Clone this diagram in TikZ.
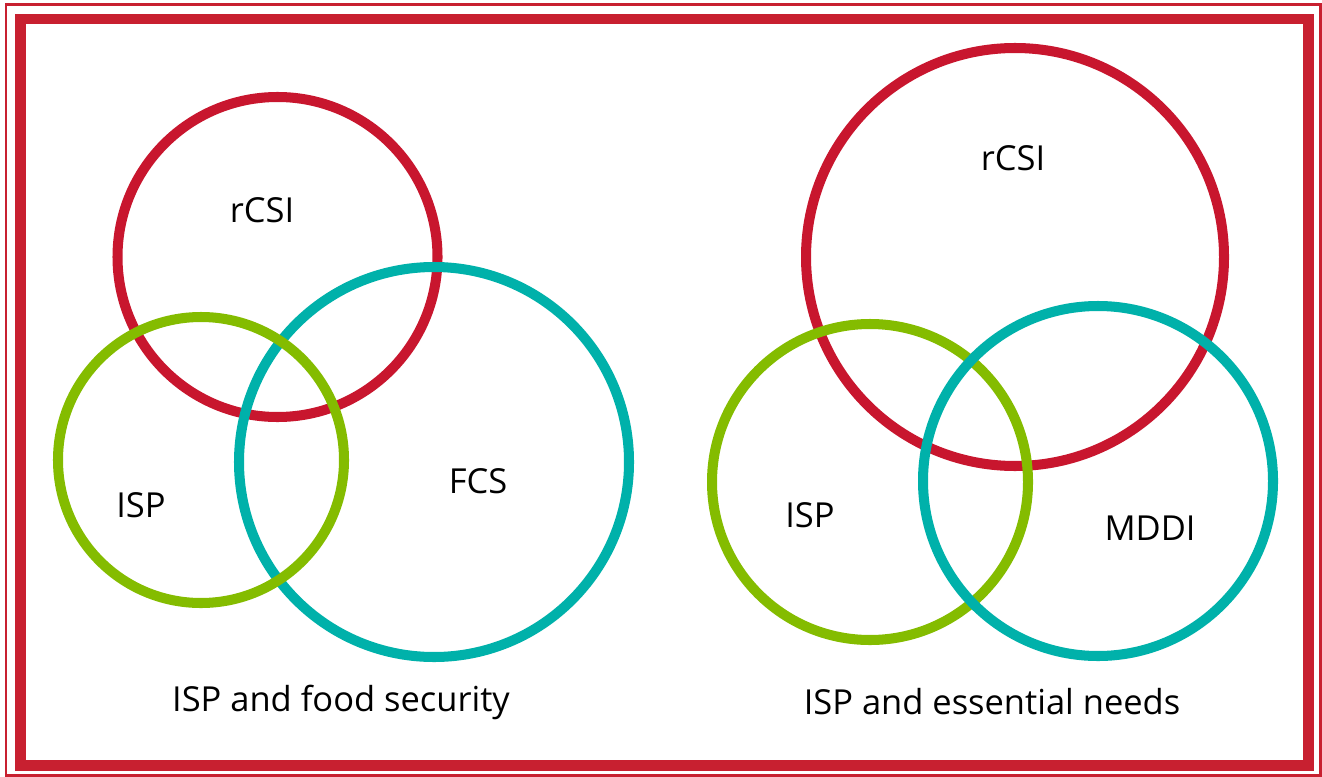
\documentclass[tikz,border=0pt]{standalone}
\usepackage{fontspec}
\setmainfont{Open Sans}
\definecolor{wfpred}{RGB}{200,22,46}
\definecolor{framered}{RGB}{200,32,48}
\definecolor{ispgreen}{RGB}{132,188,0}
\definecolor{tealc}{RGB}{0,177,170}
\tikzset{ring/.style={line width=2.85pt},lbl/.style={font=\fontsize{9.8}{12}\selectfont}}
\begin{document}
\begin{tikzpicture}[x=0.01cm,y=-0.01cm,line join=round]
			\useasboundingbox (0,0) rectangle (1322,776);
			% frame
			\draw[framered,line width=0.85pt,line join=miter] (6,4.5) rectangle (1320.5,775);
			\draw[framered,line width=3.1pt,line join=miter] (20.5,19) rectangle (1308.5,765.5);
			% left set
			\draw[ring,wfpred] (277.5,257) circle (160);
			\draw[ring,tealc] (434,462) circle (195);
			\draw[ring,ispgreen] (201,460) circle (143);
			% right set
			\draw[ring,wfpred] (1015,257) circle (209);
			\draw[ring,ispgreen] (870,482) circle (158);
			\draw[ring,tealc] (1098,481) circle (175);
			% labels
			\node[lbl] (rcsiA) at (262,210) {rCSI};
			\node[lbl] (ispA) at (141,505) {ISP};
			\node[lbl] (fcs) at (478,481) {FCS};
			\node[lbl] (rcsiB) at (1013,158) {rCSI};
			\node[lbl] (ispB) at (810,515) {ISP};
			\node[lbl] (mddi) at (1150,528) {MDDI};
			\node[lbl] (capA) at (341,702) {ISP and food security};
			\node[lbl] (capB) at (992,702) {ISP and essential needs};
		\end{tikzpicture}
\end{document}
